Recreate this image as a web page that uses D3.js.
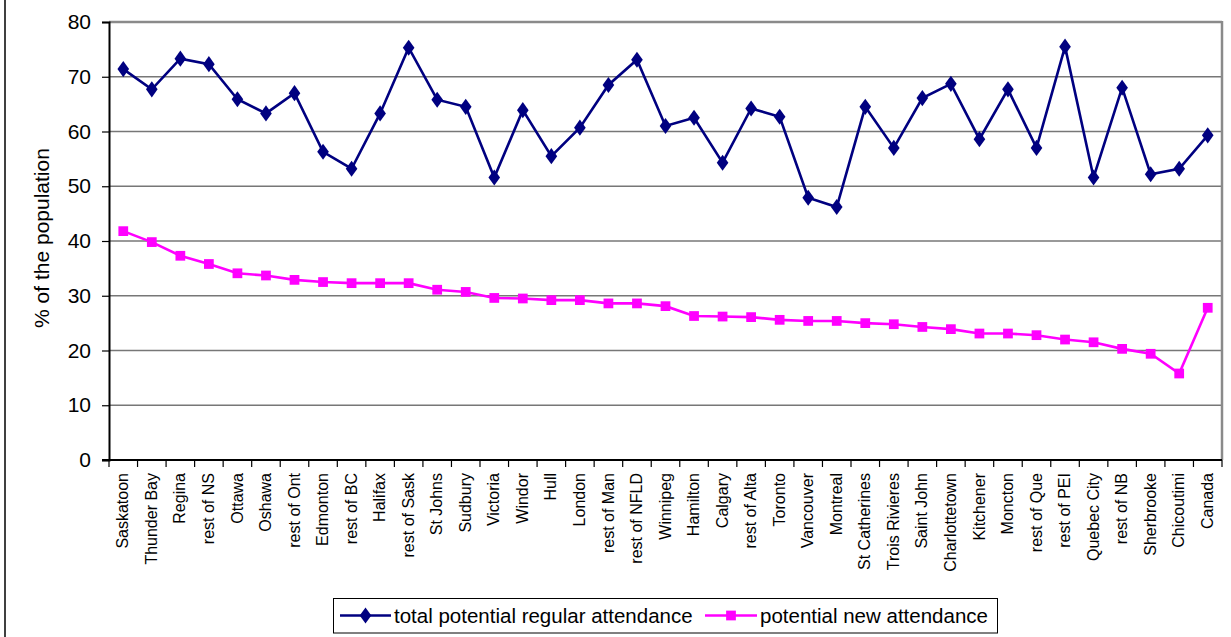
<!DOCTYPE html>
<html>
<head>
<meta charset="utf-8">
<script src="https://cdn.jsdelivr.net/npm/d3@7"></script>
<style>
  html, body { margin: 0; padding: 0; background: #fff; }
  svg { display: block; font-family: "Liberation Sans", Arial, sans-serif; }
</style>
</head>
<body>
<svg id="chart" width="1231" height="637"></svg>
<script>
// Cities / regions, in the order plotted
const categories = [
  "Saskatoon", "Thunder Bay", "Regina", "rest of NS", "Ottawa", "Oshawa",
  "rest of Ont", "Edmonton", "rest of BC", "Halifax", "rest of Sask",
  "St Johns", "Sudbury", "Victoria", "Windor", "Hull", "London",
  "rest of Man", "rest of NFLD", "Winnipeg", "Hamilton", "Calgary",
  "rest of Alta", "Toronto", "Vancouver", "Montreal", "St Catherines",
  "Trois Rivieres", "Saint John", "Charlottetown", "Kitchener", "Moncton",
  "rest of Que", "rest of PEI", "Quebec City", "rest of NB", "Sherbrooke",
  "Chicoutimi", "Canada"
];

// % of the population
const totalRegular = [
  71.4, 67.7, 73.3, 72.3, 65.9, 63.3, 67.0, 56.3, 53.2, 63.3, 75.3,
  65.8, 64.5, 51.6, 63.9, 55.5, 60.7, 68.5, 73.1, 61.0, 62.5, 54.3,
  64.2, 62.7, 47.9, 46.2, 64.5, 57.0, 66.1, 68.7, 58.6, 67.7,
  57.0, 75.5, 51.6, 68.0, 52.2, 53.2, 59.3
];

const potentialNew = [
  41.8, 39.8, 37.3, 35.8, 34.1, 33.7, 32.9, 32.5, 32.3, 32.3, 32.3,
  31.1, 30.7, 29.6, 29.5, 29.2, 29.2, 28.6, 28.6, 28.1, 26.3, 26.2,
  26.1, 25.6, 25.4, 25.4, 25.0, 24.8, 24.3, 23.9, 23.1, 23.1,
  22.8, 22.0, 21.5, 20.3, 19.4, 15.8, 27.8
];

const yTicks = [0, 10, 20, 30, 40, 50, 60, 70, 80];

const seriesNames = ["total potential regular attendance", "potential new attendance"];
const seriesColors = ["#000080", "#FF00FF"];

const svg = d3.select("#chart");

const plot = { left: 109, right: 1222, top: 22, bottom: 460 };

const x = d3.scaleBand()
  .domain(categories)
  .range([plot.left, plot.right])
  .paddingInner(0).paddingOuter(0);

const y = d3.scaleLinear()
  .domain([0, 80])
  .range([plot.bottom, plot.top]);

// outer frame edge on the left
svg.append("line")
  .attr("x1", 5).attr("x2", 5).attr("y1", 0).attr("y2", 637)
  .attr("stroke", "#404040").attr("stroke-width", 2);

// horizontal gridlines
svg.append("g")
  .selectAll("line")
  .data(yTicks.filter(d => d > 0))
  .join("line")
  .attr("x1", plot.left).attr("x2", plot.right)
  .attr("y1", d => y(d)).attr("y2", d => y(d))
  .attr("stroke", d => d === 80 ? "#8a8a8a" : "#777")
  .attr("stroke-width", d => d === 80 ? 2.5 : 1.7);

// right border of plot area
svg.append("line")
  .attr("x1", plot.right).attr("x2", plot.right)
  .attr("y1", plot.top - 1).attr("y2", plot.bottom)
  .attr("stroke", "#8a8a8a").attr("stroke-width", 2.5);

// y axis
const yAxis = d3.axisLeft(y).tickValues(yTicks).tickSize(7).tickPadding(11);
const gy = svg.append("g")
  .attr("transform", `translate(${plot.left},0)`)
  .call(yAxis);
gy.select(".domain").attr("stroke", "#000").attr("stroke-width", 2);
gy.selectAll(".tick line").attr("stroke", "#000").attr("stroke-width", 1.2);
gy.selectAll(".tick text")
  .attr("font-size", 21).attr("fill", "#000")
  .attr("font-family", "Liberation Sans, Arial, sans-serif");

// x axis: ticks at category boundaries
const gx = svg.append("g")
  .attr("transform", `translate(0,${plot.bottom})`);
gx.append("line")
  .attr("x1", plot.left - 7).attr("x2", plot.right)
  .attr("y1", 0).attr("y2", 0)
  .attr("stroke", "#000").attr("stroke-width", 2);
const boundaries = categories.map(c => x(c)).concat([x.range()[1]]);
gx.selectAll("line.tk")
  .data(boundaries)
  .join("line")
  .attr("class", "tk")
  .attr("x1", d => d).attr("x2", d => d)
  .attr("y1", 0).attr("y2", 7)
  .attr("stroke", "#000").attr("stroke-width", 1.2);
gx.selectAll("text")
  .data(categories)
  .join("text")
  .attr("transform", d => `translate(${x(d) + x.bandwidth() / 2 - 0.5},${13}) rotate(-90)`)
  .attr("text-anchor", "end")
  .attr("dy", "0.35em")
  .attr("font-size", 16)
  .attr("fill", "#000")
  .text(d => d);

// y axis title
svg.append("text")
  .attr("transform", `translate(42,${238}) rotate(-90)`)
  .attr("text-anchor", "middle")
  .attr("dy", "0.35em")
  .attr("font-size", 21)
  .attr("fill", "#000")
  .text("% of the population");

const cx = d => x(d) + x.bandwidth() / 2;

// series lines
const line = d3.line()
  .x((d, i) => cx(categories[i]))
  .y(d => y(d));

svg.append("path")
  .datum(totalRegular)
  .attr("d", line)
  .attr("fill", "none")
  .attr("stroke", seriesColors[0])
  .attr("stroke-width", 2.6)
  .attr("stroke-linejoin", "miter");

svg.append("path")
  .datum(potentialNew)
  .attr("d", line)
  .attr("fill", "none")
  .attr("stroke", seriesColors[1])
  .attr("stroke-width", 2.6);

// markers
const diamond = d3.symbol().type(d3.symbolDiamond).size(75);
const square = d3.symbol().type(d3.symbolSquare).size(95);

svg.append("g")
  .selectAll("path")
  .data(totalRegular)
  .join("path")
  .attr("d", diamond)
  .attr("transform", (d, i) => `translate(${cx(categories[i])},${y(d)}) scale(1.25,1)`)
  .attr("fill", seriesColors[0]);

svg.append("g")
  .selectAll("path")
  .data(potentialNew)
  .join("path")
  .attr("d", square)
  .attr("transform", (d, i) => `translate(${cx(categories[i])},${y(d)})`)
  .attr("fill", seriesColors[1]);

// legend
const legend = svg.append("g");
legend.append("rect")
  .attr("x", 333.5).attr("y", 598.5)
  .attr("width", 664).attr("height", 34.5)
  .attr("fill", "#fff").attr("stroke", "#000").attr("stroke-width", 1);

const legendItems = [
  { name: seriesNames[0], color: seriesColors[0], sym: diamond, x0: 340, x1: 391, tx: 394, sx: 1.25 },
  { name: seriesNames[1], color: seriesColors[1], sym: square, x0: 705, x1: 757, tx: 760, sx: 1 }
];
const ly = 615.5;
legendItems.forEach(it => {
  legend.append("line")
    .attr("x1", it.x0).attr("x2", it.x1)
    .attr("y1", ly).attr("y2", ly)
    .attr("stroke", it.color).attr("stroke-width", 2.6);
  legend.append("path")
    .attr("d", it.sym)
    .attr("transform", `translate(${(it.x0 + it.x1) / 2},${ly}) scale(${it.sx},1)`)
    .attr("fill", it.color);
  legend.append("text")
    .attr("x", it.tx).attr("y", ly)
    .attr("dy", "0.35em")
    .attr("font-size", 20.5)
    .attr("fill", "#000")
    .text(it.name);
});
</script>
</body>
</html>
